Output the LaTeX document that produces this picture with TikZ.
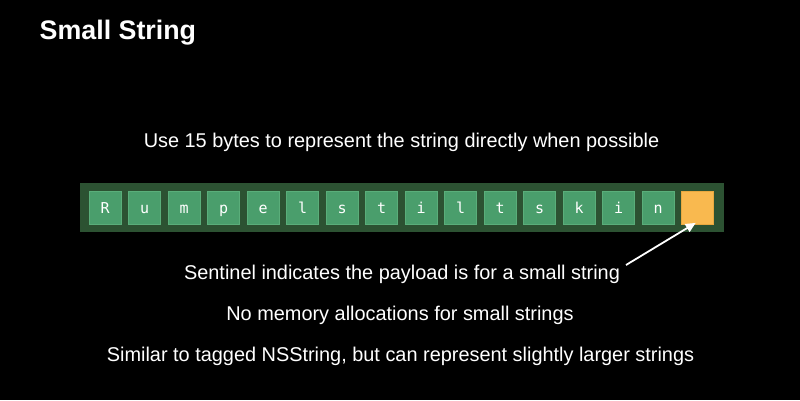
\documentclass[tikz,border=0pt]{standalone}
\usepackage{fontspec}
\setmainfont{Liberation Sans}
\newfontfamily\monof{DejaVu Sans Mono}
\usetikzlibrary{arrows.meta,calc}
\definecolor{barcol}{HTML}{2C5232}
\definecolor{boxcol}{HTML}{4A9E6C}
\definecolor{boxedge}{HTML}{5AAE7A}
\definecolor{orangecol}{HTML}{F9B94F}
\definecolor{orangeedge}{HTML}{E8A840}
\tikzset{
  charbox/.style={draw=boxedge, line width=0.8pt, fill=boxcol, minimum width=32pt, minimum height=33pt, inner sep=0pt, text=white, font=\monof\fontsize{15}{15}\selectfont, text height=11pt, text depth=0pt, anchor=center},
  sentbox/.style={charbox, fill=orangecol, draw=orangeedge},
  bodytext/.style={text=white, font=\fontsize{19.9}{24}\selectfont, anchor=base, inner sep=0pt},
}
\begin{document}
\begin{tikzpicture}[x=1pt,y=-1pt]
\fill[black] (0,0) rectangle (800,400);
\useasboundingbox (0,0) rectangle (800,400);
\node[text=white, font=\bfseries\fontsize{26.8}{30}\selectfont, anchor=base west, inner sep=0pt] (title) at (39.5,39.3) {Small String};
\node[bodytext] (t1) at (401.5,147.7) {Use 15 bytes to represent the string directly when possible};
\node[fill=barcol, minimum width=644pt, minimum height=49pt, inner sep=0pt] (bar) at (401.5,207.5) {};
\foreach \ch [count=\i from 0] in {R,u,m,p,e,l,s,t,i,l,t,s,k,i,n} {
  \node[charbox] (c\i) at ({105.2+39.5*\i},207.5) {\ch};
}
\node[sentbox] (sent) at ({105.2+39.5*15},207.5) {};
\node[bodytext] (t2) at (402,279.5) {Sentinel indicates the payload is for a small string};
\node[bodytext] (t3) at (400,320.5) {No memory allocations for small strings};
\node[bodytext] (t4) at (400.5,361.5) {Similar to tagged NSString, but can represent slightly larger strings};
\coordinate (tail) at (626,265);
\draw[white, line width=1.8pt, -{Triangle[length=10pt,width=9pt]}] (tail) -- ($(sent.south)+(-2,-1.5)$);
\end{tikzpicture}
\end{document}
